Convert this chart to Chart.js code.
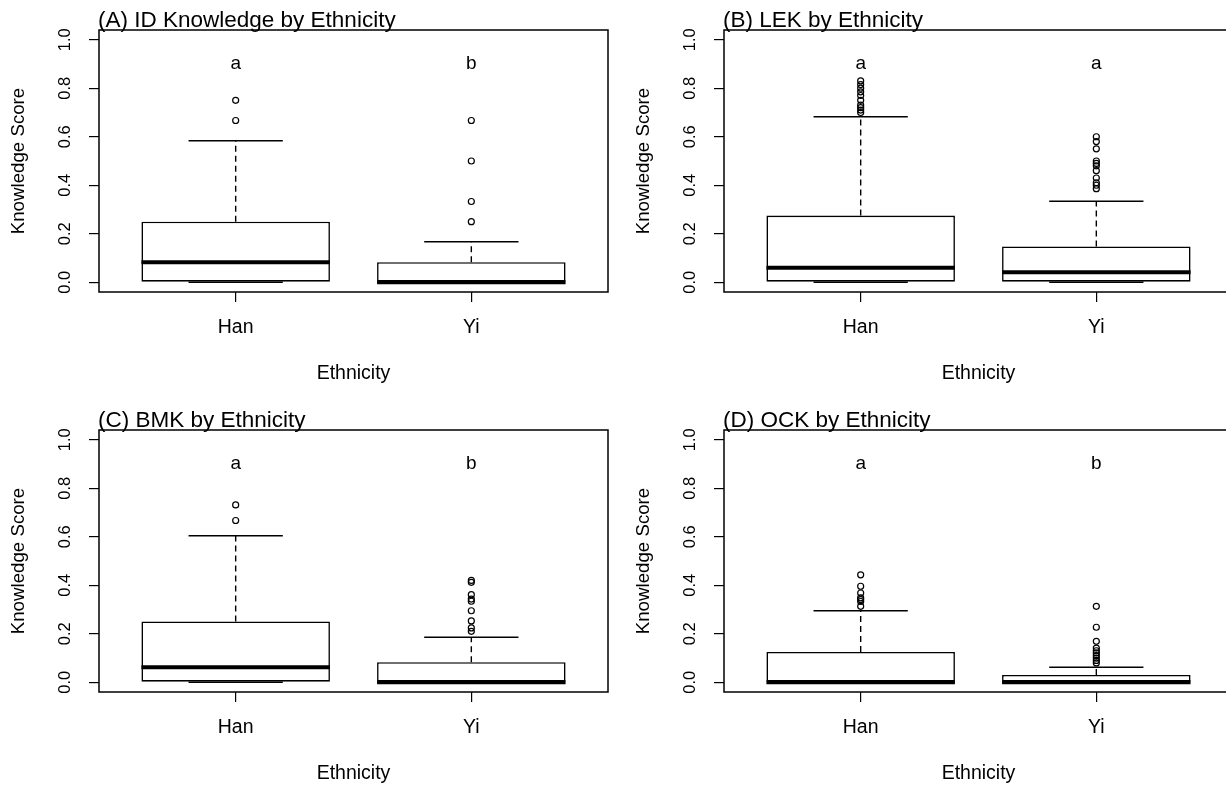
<!DOCTYPE html>
<html>
<head>
<meta charset="utf-8">
<script src="https://cdn.jsdelivr.net/npm/chart.js@4.4.1/dist/chart.umd.min.js"></script>
<style>
html,body{margin:0;padding:0;background:#fff;width:1226px;height:787px;overflow:hidden;position:relative}
canvas{position:absolute}
</style>
</head>
<body>
<canvas id="pA" width="625" height="400" style="left:0px;top:0px"></canvas>
<canvas id="pB" width="625" height="400" style="left:625px;top:0px"></canvas>
<canvas id="pC" width="625" height="400" style="left:0px;top:400px"></canvas>
<canvas id="pD" width="625" height="400" style="left:625px;top:400px"></canvas>
<script>
// ---------- data ----------
const categories = ['Han', 'Yi'];
const yTickValues = [0, 0.2, 0.4, 0.6, 0.8, 1.0];
const yTickLabels = ['0.0', '0.2', '0.4', '0.6', '0.8', '1.0'];
const xAxisTitle = 'Ethnicity';
const yAxisTitle = 'Knowledge Score';

// (A) ID Knowledge
const titleA = '(A) ID Knowledge by Ethnicity';
const lowA = [0, 0];
const q1A = [0, 0];
const medA = [0.083, 0];
const q3A = [0.25, 0.083];
const highA = [0.583, 0.167];
const outHanA = [0.667, 0.75];
const outYiA = [0.25, 0.333, 0.5, 0.667];
const lettersA = ['a', 'b'];

// (B) LEK
const titleB = '(B) LEK by Ethnicity';
const lowB = [0, 0];
const q1B = [0, 0];
const medB = [0.06, 0.041];
const q3B = [0.275, 0.148];
const highB = [0.682, 0.334];
const outHanB = [0.70, 0.71, 0.72, 0.73, 0.75, 0.77, 0.785, 0.80, 0.815, 0.83];
const outYiB = [0.386, 0.40, 0.41, 0.43, 0.46, 0.48, 0.49, 0.50, 0.55, 0.58, 0.60];
const lettersB = ['a', 'a'];

// (C) BMK
const titleC = '(C) BMK by Ethnicity';
const lowC = [0, 0];
const q1C = [0, 0];
const medC = [0.062, 0];
const q3C = [0.251, 0.083];
const highC = [0.604, 0.186];
const outHanC = [0.667, 0.731];
const outYiC = [0.21, 0.224, 0.253, 0.295, 0.334, 0.343, 0.361, 0.412, 0.42];
const lettersC = ['a', 'b'];

// (D) OCK
const titleD = '(D) OCK by Ethnicity';
const lowD = [0, 0];
const q1D = [0, 0];
const medD = [0, 0];
const q3D = [0.125, 0.03];
const highD = [0.295, 0.062];
const outHanD = [0.313, 0.333, 0.341, 0.348, 0.368, 0.396, 0.443];
const outYiD = [0.08, 0.09, 0.1, 0.11, 0.121, 0.13, 0.141, 0.169, 0.227, 0.313];
const lettersD = ['a', 'b'];

const letterLevel = 0.9;

// ---------- drawing ----------
const FONT = '"Liberation Sans", Arial, sans-serif';
Chart.defaults.font.family = FONT;
Chart.defaults.color = '#000';

function makePanel(id, title, low, q1, med, q3, high, outHan, outYi, letters) {
  const outliers = [];
  outHan.forEach(v => outliers.push({x: 1, y: v}));
  outYi.forEach(v => outliers.push({x: 2, y: v}));

  const rbox = {
    id: 'rbox',
    afterDatasetsDraw(chart) {
      const {ctx, scales: {x, y}} = chart;
      const line = (x0, y0, x1, y1) => { ctx.beginPath(); ctx.moveTo(x0, y0); ctx.lineTo(x1, y1); ctx.stroke(); };
      ctx.save();
      ctx.strokeStyle = '#000';
      ctx.lineCap = 'butt';
      for (let i = 0; i < categories.length; i++) {
        const cx = x.getPixelForValue(i + 1);
        const capL = x.getPixelForValue(i + 1 - 0.2), capR = x.getPixelForValue(i + 1 + 0.2);
        const bl = x.getPixelForValue(i + 1 - 0.4), br = x.getPixelForValue(i + 1 + 0.4);
        ctx.lineWidth = 1.4;
        ctx.setLineDash([6, 4]);
        line(cx, y.getPixelForValue(q3[i]), cx, y.getPixelForValue(high[i]));
        line(cx, y.getPixelForValue(q1[i]), cx, y.getPixelForValue(low[i]));
        ctx.setLineDash([]);
        ctx.lineWidth = 1.5;
        line(capL, y.getPixelForValue(high[i]), capR, y.getPixelForValue(high[i]));
        line(capL, y.getPixelForValue(low[i]), capR, y.getPixelForValue(low[i]));
        ctx.lineWidth = 4;
        line(bl, y.getPixelForValue(med[i]), br, y.getPixelForValue(med[i]));
      }
      ctx.restore();
    },
    afterDraw(chart) {
      const {ctx, chartArea: a, scales: {x, y}} = chart;
      ctx.save();
      ctx.strokeStyle = '#000';
      ctx.lineWidth = 1.5;
      ctx.strokeRect(a.left, a.top, a.right - a.left, a.bottom - a.top);
      // panel title
      ctx.fillStyle = '#000';
      ctx.font = '22.5px ' + FONT;
      ctx.textAlign = 'left';
      ctx.textBaseline = 'alphabetic';
      ctx.fillText(title, a.left - 1, a.top - 3.5);
      // y tick labels (rotated)
      ctx.font = '16.5px ' + FONT;
      ctx.textAlign = 'center';
      ctx.textBaseline = 'middle';
      yTickValues.forEach((v, k) => {
        ctx.save();
        ctx.translate(a.left - 34, y.getPixelForValue(v));
        ctx.rotate(-Math.PI / 2);
        ctx.fillText(yTickLabels[k], 0, 0);
        ctx.restore();
      });
      // significance letters
      ctx.font = '19px ' + FONT;
      letters.forEach((t, i) => {
        ctx.fillText(t, x.getPixelForValue(i + 1), y.getPixelForValue(letterLevel));
      });
      ctx.restore();
    }
  };

  new Chart(document.getElementById(id), {
    type: 'bar',
    data: {
      datasets: [
        {
          type: 'bar',
          data: categories.map((c, i) => ({x: i + 1, y: [q1[i], q3[i]]})),
          backgroundColor: '#fff',
          borderColor: '#000',
          borderWidth: 1.6,
          borderSkipped: false,
          barPercentage: 0.8,
          categoryPercentage: 1.0,
          order: 2
        },
        {
          type: 'scatter',
          data: outliers,
          pointStyle: 'circle',
          pointRadius: 3,
          pointBorderWidth: 1.2,
          pointBackgroundColor: 'rgba(255,255,255,0)',
          pointBorderColor: '#000',
          order: 1
        }
      ]
    },
    options: {
      responsive: false,
      animation: false,
      devicePixelRatio: 1,
      layout: {padding: {left: 0, top: 30, right: 17, bottom: 0}},
      plugins: {legend: {display: false}, tooltip: {enabled: false}},
      scales: {
        x: {
          type: 'linear',
          min: 0.42, max: 2.58,
          offset: false,
          afterBuildTicks: s => { s.ticks = categories.map((c, i) => ({value: i + 1})); },
          afterFit: s => { s.height = 108; },
          ticks: {
            callback: (v, i) => categories[i],
            font: {size: 19.5},
            color: '#000',
            padding: 14,
            maxRotation: 0, minRotation: 0, autoSkip: false
          },
          grid: {display: true, drawOnChartArea: false, drawTicks: true, tickLength: 10, color: '#000', lineWidth: 1.2, offset: false},
          border: {display: false},
          title: {display: true, text: xAxisTitle, font: {size: 19.5}, color: '#000', padding: {top: 0, bottom: 15}}
        },
        y: {
          type: 'linear',
          min: -0.04, max: 1.04,
          afterBuildTicks: s => { s.ticks = yTickValues.map(v => ({value: v})); },
          afterFit: s => { s.width = 99; },
          ticks: {display: false},
          grid: {display: true, drawOnChartArea: false, drawTicks: true, tickLength: 10, color: '#000', lineWidth: 1.2},
          border: {display: false},
          title: {display: true, text: yAxisTitle, font: {size: 18.7}, color: '#000', padding: {top: 7.6, bottom: 0}}
        }
      }
    },
    plugins: [rbox]
  });
}

makePanel('pA', titleA, lowA, q1A, medA, q3A, highA, outHanA, outYiA, lettersA);
makePanel('pB', titleB, lowB, q1B, medB, q3B, highB, outHanB, outYiB, lettersB);
makePanel('pC', titleC, lowC, q1C, medC, q3C, highC, outHanC, outYiC, lettersC);
makePanel('pD', titleD, lowD, q1D, medD, q3D, highD, outHanD, outYiD, lettersD);
</script>
</body>
</html>
